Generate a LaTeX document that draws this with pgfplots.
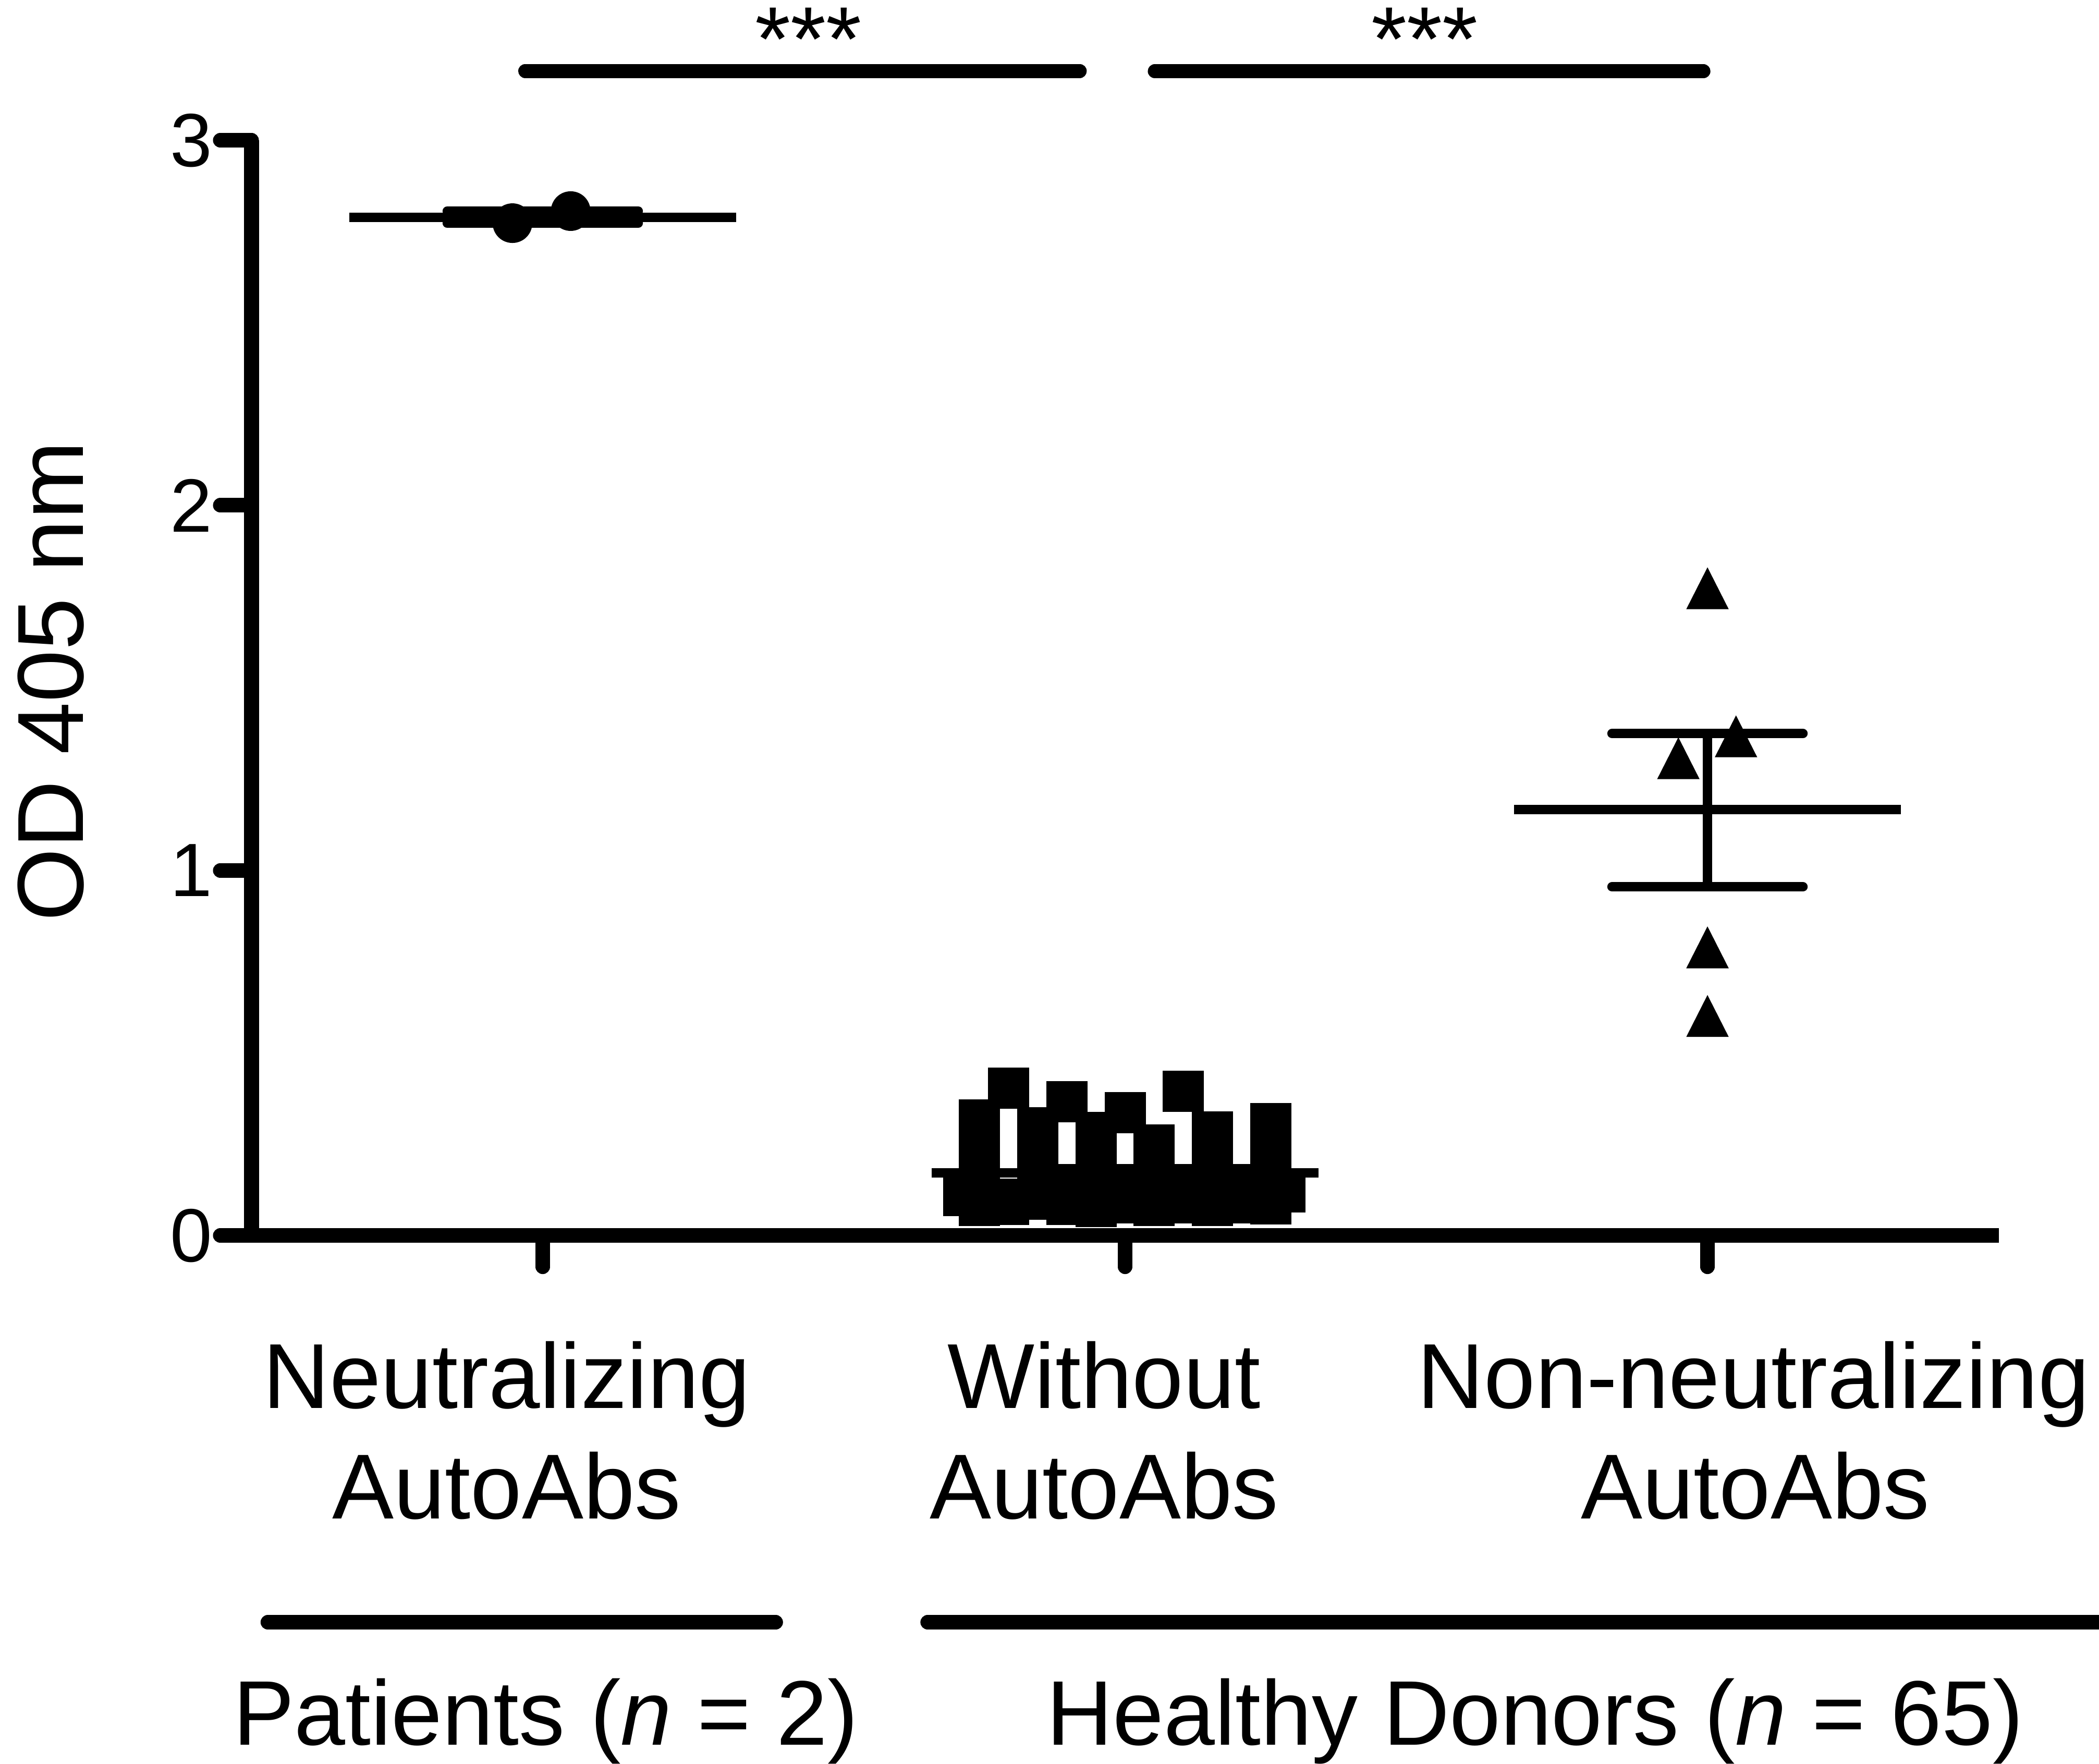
\documentclass[border=0pt]{standalone}
\usepackage{pgfplots}
\pgfplotsset{compat=1.18}
\usepackage{fontspec}
\setmainfont{Liberation Sans}

\begin{document}
\begin{tikzpicture}
\begin{axis}[
  scale only axis, width=335.1pt, height=210.1pt,
  xmin=0.5, xmax=3.5, ymin=0, ymax=3,
  axis lines=left,
  axis line style={line width=2.8pt, -},
  xtick={1,2,3}, xticklabels={},
  ytick={0,1,2,3},
  tick align=outside,
  major tick length=6pt,
  tick style={line width=2.8pt, line cap=round, black},
  yticklabel style={font=\fontsize{14.5}{17}\selectfont, anchor=east, inner sep=0pt, xshift=-1.3pt},
  /pgf/number format/assume math mode=true,
  clip=false,
]
% Group 1: neutralizing (patients)
\addplot[only marks, mark=*, mark size=3.6pt, mark options={fill=black, draw=none}]
  coordinates {(0.948,2.773) (1.048,2.806)};
% Group 2: without autoAbs
\addplot[only marks, mark=square*, mark size=3.75pt, mark options={fill=black, draw=none}]
  coordinates {
  (1.723,0.110)
  (1.750,0.316) (1.750,0.203) (1.750,0.150) (1.750,0.130) (1.750,0.105) (1.750,0.083)
  (1.800,0.403) (1.800,0.100) (1.800,0.085)
  (1.850,0.295) (1.850,0.200) (1.850,0.150) (1.850,0.130) (1.850,0.120) (1.850,0.099)
  (1.900,0.367) (1.900,0.140) (1.900,0.125) (1.900,0.110) (1.900,0.085)
  (1.950,0.282) (1.950,0.190) (1.950,0.140) (1.950,0.125) (1.950,0.110) (1.950,0.080)
  (2.000,0.336) (2.000,0.140) (2.000,0.125) (2.000,0.115) (2.000,0.090)
  (2.050,0.248) (2.050,0.160) (2.050,0.130) (2.050,0.120) (2.050,0.105) (2.050,0.083)
  (2.100,0.395) (2.100,0.140) (2.100,0.115) (2.100,0.100) (2.100,0.090)
  (2.150,0.284) (2.150,0.190) (2.150,0.140) (2.150,0.125) (2.150,0.110) (2.150,0.083)
  (2.200,0.140) (2.200,0.115) (2.200,0.100) (2.200,0.090)
  (2.250,0.307) (2.250,0.200) (2.250,0.140) (2.250,0.125) (2.250,0.110) (2.250,0.087)
  (2.274,0.120)
  };
% Group 3: non-neutralizing
\addplot[only marks, mark=triangle*, mark size=4.93pt, mark options={fill=black, draw=none, xscale=0.878}]
  coordinates {(3,1.7535) (2.95,1.288) (3.049,1.348) (3,0.770) (3,0.582)};

% means and SEM
\addplot[line width=1.8pt, no markers] coordinates {(0.668,2.789) (1.332,2.789)};
\addplot[line width=1.8pt, no markers, line cap=round] coordinates {(0.836,2.806) (1.164,2.806)};
\addplot[line width=1.8pt, no markers, line cap=round] coordinates {(0.836,2.773) (1.164,2.773)};
\addplot[line width=1.8pt, no markers] coordinates {(1,2.773) (1,2.806)};

\addplot[line width=1.8pt, no markers] coordinates {(1.668,0.171) (2.332,0.171)};
\addplot[line width=1.8pt, no markers, line cap=round] coordinates {(1.836,0.183) (2.164,0.183)};
\addplot[line width=1.8pt, no markers, line cap=round] coordinates {(1.836,0.159) (2.164,0.159)};

\addplot[line width=1.8pt, no markers] coordinates {(2.668,1.167) (3.332,1.167)};
\addplot[line width=1.8pt, no markers, line cap=round] coordinates {(2.836,1.375) (3.164,1.375)};
\addplot[line width=1.8pt, no markers, line cap=round] coordinates {(2.836,0.955) (3.164,0.955)};
\addplot[line width=1.8pt, no markers] coordinates {(3,0.955) (3,1.375)};

% significance
\draw[line width=2.7pt, line cap=round] (axis cs:0.970,3.190) -- (axis cs:1.922,3.190);
\draw[line width=2.7pt, line cap=round] (axis cs:2.051,3.189) -- (axis cs:2.993,3.189);
\node[anchor=base, font=\fontsize{17.5}{20}\selectfont, inner sep=0pt] at (axis cs:1.456,3.191) {***};
\node[anchor=base, font=\fontsize{17.5}{20}\selectfont, inner sep=0pt] at (axis cs:2.514,3.191) {***};

% y label
\node[rotate=90, anchor=base, font=\fontsize{18}{21}\selectfont, inner sep=0pt] at (axis cs:0.2104,1.518) {OD 405 nm};

% category labels
\node[anchor=base, font=\fontsize{17.7}{21}\selectfont, inner sep=0pt] at (axis cs:0.938,-0.4727) {Neutralizing};
\node[anchor=base, font=\fontsize{17.7}{21}\selectfont, inner sep=0pt] at (axis cs:0.938,-0.7754) {AutoAbs};
\node[anchor=base, font=\fontsize{17.7}{21}\selectfont, inner sep=0pt] at (axis cs:1.964,-0.4727) {Without};
\node[anchor=base, font=\fontsize{17.7}{21}\selectfont, inner sep=0pt] at (axis cs:1.964,-0.7754) {AutoAbs};
\node[anchor=base, font=\fontsize{17.7}{21}\selectfont, inner sep=0pt] at (axis cs:3.079,-0.4727) {Non-neutralizing};
\node[anchor=base, font=\fontsize{17.7}{21}\selectfont, inner sep=0pt] at (axis cs:3.082,-0.7754) {AutoAbs};

% group lines
\draw[line width=2.8pt, line cap=round] (axis cs:0.528,-1.0595) -- (axis cs:1.400,-1.0595);
\draw[line width=2.8pt, line cap=round] (axis cs:1.661,-1.0595) -- (axis cs:3.75,-1.0595);
\node[anchor=base, font=\fontsize{17.6}{20}\selectfont, inner sep=0pt] at (axis cs:1.005,-1.395) {Patients (\textit{n} = 2)};
\node[anchor=base, font=\fontsize{17.6}{20}\selectfont, inner sep=0pt] at (axis cs:2.704,-1.395) {Healthy Donors (\textit{n} = 65)};

\coordinate (bbsw) at (axis cs:0.06804,-1.4465);
\coordinate (bbne) at (axis cs:3.6723,3.3843);
\end{axis}
\pgfresetboundingbox
\path[use as bounding box] (bbsw) rectangle (bbne);
\end{tikzpicture}
\end{document}
